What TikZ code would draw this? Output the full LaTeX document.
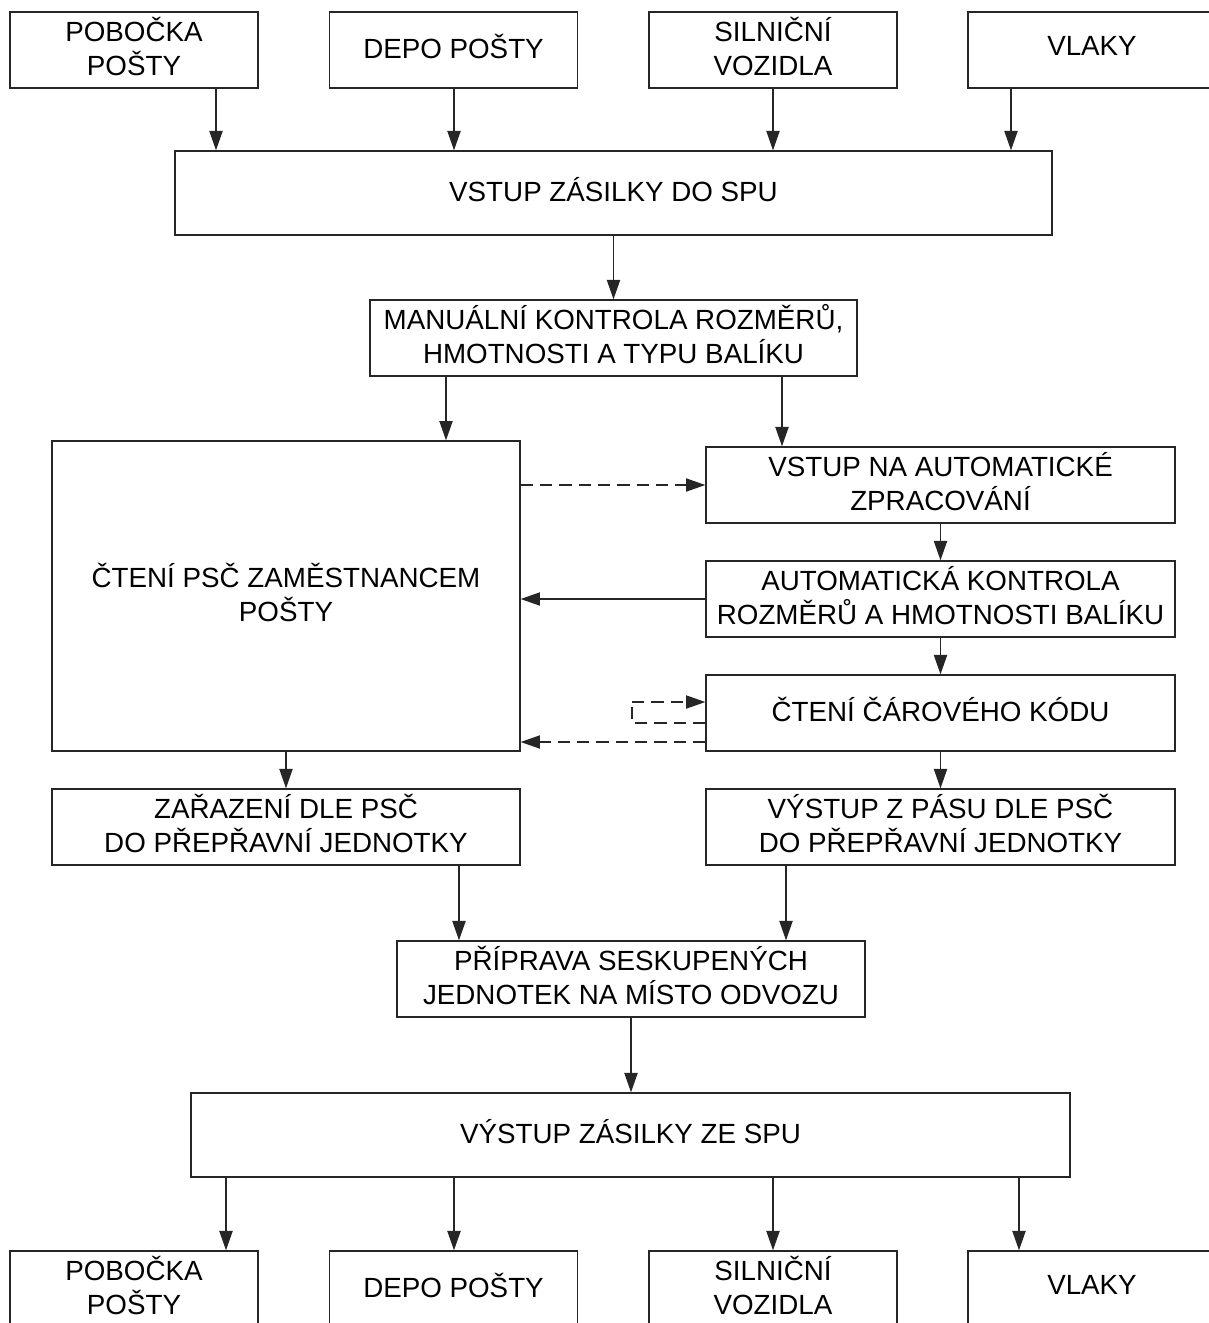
\documentclass[tikz,border=0pt]{standalone}
\usepackage{fontspec}
\setmainfont{Liberation Sans}
\usetikzlibrary{arrows.meta}
\begin{document}
\begin{tikzpicture}[x=0.02cm,y=-0.02cm,
  box/.style={draw=black!85, line width=0.8pt, align=center, inner sep=0pt,
    font=\fontsize{15.8}{19.4}\selectfont, text=black, text depth=4.5pt},
  sbox/.style={box, minimum width=4.96cm, minimum height=1.52cm},
  rbox/.style={box, minimum width=9.38cm, minimum height=1.52cm},
  arr/.style={draw=black!85, line width=0.8pt, -{Triangle[length=11pt,width=7.5pt]}},
  darr/.style={arr, dash pattern=on 7pt off 4pt},
  dline/.style={draw=black!85, line width=0.8pt, dash pattern=on 7pt off 4pt}]
\clip (0,0) rectangle (1209,1323);
% top row
\node[sbox] (t1) at (134,50) {POBOČKA\\POŠTY};
\node[sbox] (t2) at (453.5,50) {DEPO POŠTY};
\node[sbox] (t3) at (773,50) {SILNIČNÍ\\VOZIDLA};
\node[sbox] (t4) at (1092,50) {VLAKY};
\node[box, minimum width=17.54cm, minimum height=1.68cm] (vstup) at (613.5,193) {VSTUP ZÁSILKY DO SPU};
\node[box, minimum width=9.74cm, minimum height=1.52cm] (man) at (613.5,338) {MANUÁLNÍ KONTROLA ROZMĚRŮ,\\HMOTNOSTI A TYPU BALÍKU};
\node[box, minimum width=9.36cm, minimum height=6.2cm] (cteni) at (286,596) {ČTENÍ PSČ ZAMĚSTNANCEM\\POŠTY};
\node[rbox] (vna) at (940.5,485) {VSTUP NA AUTOMATICKÉ\\ZPRACOVÁNÍ};
\node[rbox] (auto) at (940.5,599) {AUTOMATICKÁ KONTROLA\\ROZMĚRŮ A HMOTNOSTI BALÍKU};
\node[rbox] (caro) at (940.5,713) {ČTENÍ ČÁROVÉHO KÓDU};
\node[box, minimum width=9.36cm, minimum height=1.52cm] (zar) at (286,827) {ZAŘAZENÍ DLE PSČ\\DO PŘEPŘAVNÍ JEDNOTKY};
\node[rbox] (vys) at (940.5,827) {VÝSTUP Z PÁSU DLE PSČ\\DO PŘEPŘAVNÍ JEDNOTKY};
\node[box, minimum width=9.36cm, minimum height=1.52cm] (prip) at (631,979) {PŘÍPRAVA SESKUPENÝCH\\JEDNOTEK NA MÍSTO ODVOZU};
\node[box, minimum width=17.58cm, minimum height=1.68cm] (vystup) at (630.5,1135) {VÝSTUP ZÁSILKY ZE SPU};
% bottom row
\node[sbox] (b1) at (134,1289) {POBOČKA\\POŠTY};
\node[sbox] (b2) at (453.5,1289) {DEPO POŠTY};
\node[sbox] (b3) at (773,1289) {SILNIČNÍ\\VOZIDLA};
\node[sbox] (b4) at (1092,1289) {VLAKY};
% helper coordinates
\coordinate (x1) at (216,0);
\coordinate (x2) at (454,0);
\coordinate (x3) at (773,0);
\coordinate (x4) at (1011,0);
\coordinate (xm1) at (446,0);
\coordinate (xm2) at (782,0);
\coordinate (xp1) at (459,0);
\coordinate (xp2) at (786,0);
\coordinate (xb1) at (226,0);
\coordinate (xb4) at (1019,0);
\coordinate (y1) at (0,485);
\coordinate (y2) at (0,599);
\coordinate (y3) at (0,702);
\coordinate (y4) at (0,723);
\coordinate (y5) at (0,742);
\coordinate (lp) at (632,702);
\coordinate (lq) at (632,723);
% arrows top
\draw[arr] (t1.south -| x1) -- (vstup.north -| x1);
\draw[arr] (t2.south -| x2) -- (vstup.north -| x2);
\draw[arr] (t3.south -| x3) -- (vstup.north -| x3);
\draw[arr] (t4.south -| x4) -- (vstup.north -| x4);
\draw[arr] (vstup) -- (man);
\draw[arr] (man.south -| xm1) -- (cteni.north -| xm1);
\draw[arr] (man.south -| xm2) -- (vna.north -| xm2);
\draw[darr] (cteni.east |- y1) -- (vna.west |- y1);
\draw[arr] (vna) -- (auto);
\draw[arr] (auto.west |- y2) -- (cteni.east |- y2);
\draw[arr] (auto) -- (caro);
\draw[dline] (caro.west |- y4) -- (lq) -- (lp);
\draw[darr] (lp) -- (caro.west |- y3);
\draw[darr] (caro.west |- y5) -- (cteni.east |- y5);
\draw[arr] (cteni) -- (zar);
\draw[arr] (caro) -- (vys);
\draw[arr] (zar.south -| xp1) -- (prip.north -| xp1);
\draw[arr] (vys.south -| xp2) -- (prip.north -| xp2);
\draw[arr] (prip.south) -- (vystup.north -| prip.south);
\draw[arr] (vystup.south -| xb1) -- (b1.north -| xb1);
\draw[arr] (vystup.south -| x2) -- (b2.north -| x2);
\draw[arr] (vystup.south -| x3) -- (b3.north -| x3);
\draw[arr] (vystup.south -| xb4) -- (b4.north -| xb4);
\end{tikzpicture}
\end{document}
